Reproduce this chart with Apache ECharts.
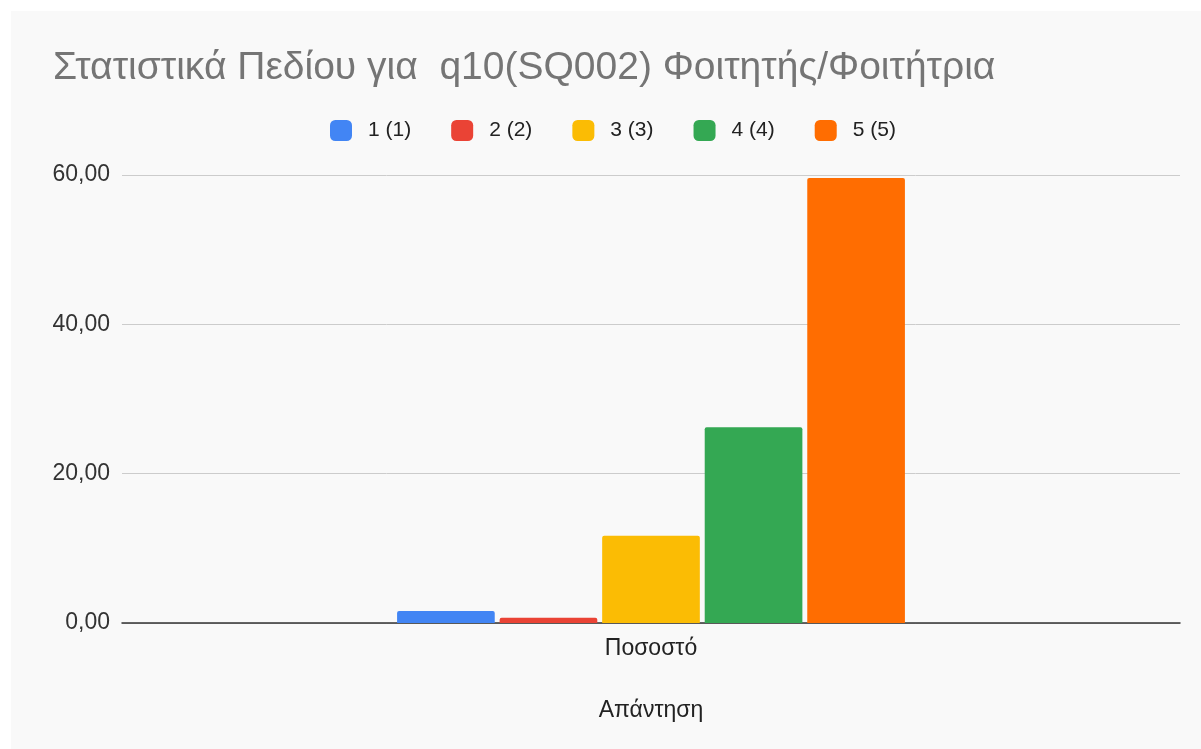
<!DOCTYPE html>
<html>
<head>
<meta charset="utf-8">
<script src="https://cdn.jsdelivr.net/npm/echarts@6/dist/echarts.min.js"></script>
<style>
  html, body { margin: 0; padding: 0; background: #fff; }
  #chart { width: 1201px; height: 749px; }
</style>
</head>
<body>
<div id="chart"></div>
<script>
// κατηγορίες και τιμές (ποσοστά)
const categories = ['Ποσοστό'];
const seriesNames = ['1 (1)', '2 (2)', '3 (3)', '4 (4)', '5 (5)'];
const seriesValues = [1.6, 0.7, 11.7, 26.2, 59.6];
const seriesColors = ['#4285f4', '#ea4335', '#fbbc04', '#34a853', '#ff6d01'];
const yTicks = { min: 0, max: 60, interval: 20 };

const chart = echarts.init(document.getElementById('chart'));

const fmt = v => v.toFixed(2).replace('.', ',');

const option = {
  backgroundColor: '#ffffff',
  textStyle: { fontFamily: '"Liberation Sans", Arial, sans-serif' },
  graphic: [{
    type: 'rect',
    z: -10,
    shape: { x: 11, y: 11, width: 1190, height: 738 },
    style: { fill: '#f9f9f9' },
    silent: true
  }],
  title: {
    text: 'Στατιστικά Πεδίου για  q10(SQ002) Φοιτητής/Φοιτήτρια',
    left: 48,
    top: 44,
    textStyle: { fontSize: 39, fontWeight: 'normal', color: '#757575' }
  },
  legend: {
    top: 115,
    left: 325,
    icon: 'roundRect',
    itemWidth: 22,
    itemHeight: 21,
    itemGap: 40,
    textStyle: { fontSize: 21, color: '#222', padding: [0, 0, 0, 11] },
    data: seriesNames
  },
  grid: { left: 122, right: 21, top: 175, bottom: 126 },
  xAxis: {
    type: 'category',
    data: categories,
    name: 'Απάντηση',
    nameLocation: 'middle',
    nameGap: 76,
    nameTextStyle: { fontSize: 23, color: '#222' },
    axisTick: { show: false },
    axisLine: { lineStyle: { color: '#333', width: 1.5 } },
    axisLabel: { fontSize: 23, color: '#222', margin: 14 }
  },
  yAxis: {
    type: 'value',
    min: yTicks.min,
    max: yTicks.max,
    interval: yTicks.interval,
    axisLine: { show: false },
    axisTick: { show: false },
    axisLabel: { fontSize: 23, color: '#333', margin: 12, formatter: fmt },
    splitLine: { lineStyle: { color: '#cccccc' } }
  },
  series: seriesNames.map((name, i) => ({
    name,
    type: 'bar',
    barGap: '5%',
    barCategoryGap: '52%',
    itemStyle: { color: seriesColors[i], borderRadius: [2, 2, 0, 0] },
    data: [seriesValues[i]]
  }))
};

chart.setOption(option);
</script>
</body>
</html>
